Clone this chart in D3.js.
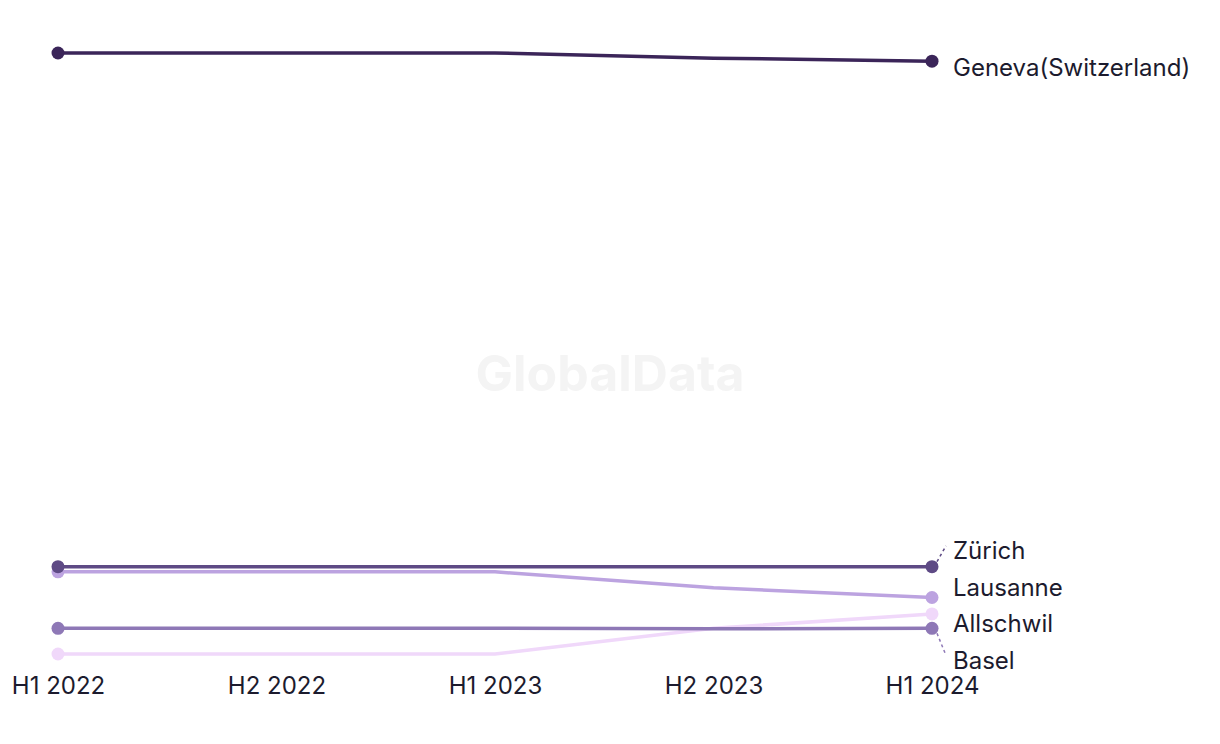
<!DOCTYPE html>
<html><head><meta charset="utf-8">
<script src="https://cdn.jsdelivr.net/npm/d3@7"></script>
<style>body{margin:0;background:#fff}svg{display:block}</style>
</head><body>
<svg id="chart" width="1220" height="744"></svg>
<script>
const periods = ["H1 2022","H2 2022","H1 2023","H2 2023","H1 2024"];
const seriesNames = ["Geneva(Switzerland)","Zürich","Lausanne","Allschwil","Basel"];
const geneva   = [118, 118, 118, 117, 116.4];
const zurich   = [18, 18, 18, 18, 18];
const lausanne = [17, 17, 17, 13.9, 12];
const allschwil= [1, 1, 1, 6, 8.8];
const basel    = [6, 6, 6, 5.9, 6];
const colors = ["#3b2559","#5e4a85","#bca3e0","#f0d8fa","#8e78b6"];

const values = [geneva, zurich, lausanne, allschwil, basel];
const series = seriesNames.map((n,i)=>({name:n, values:values[i], color:colors[i]}));

const FONT = "Inter, 'Liberation Sans', sans-serif";
const svg = d3.select("#chart");
const x = d3.scalePoint().domain(periods).range([58, 932]);
const y = d3.scaleLinear().domain([1, 118]).range([654, 53]);

// watermark
svg.append("text").attr("x", 610).attr("y", 391).attr("text-anchor","middle")
  .attr("font-family",FONT).attr("font-weight",700)
  .attr("font-size",50).attr("fill","#f4f4f4").text("GlobalData");

const line = d3.line().x((d,i)=>x(periods[i])).y(d=>y(d));

const drawOrder = [3,2,4,1,0];
drawOrder.forEach(i=>{
  const s = series[i];
  svg.append("path").attr("d", line(s.values)).attr("fill","none")
    .attr("stroke", s.color).attr("stroke-width",3.5);
});
drawOrder.forEach(i=>{
  const s = series[i];
  [0, s.values.length-1].forEach(j=>{
    svg.append("circle").attr("cx", x(periods[j])).attr("cy", y(s.values[j]))
      .attr("r",6.5).attr("fill", s.color);
  });
});

// x-axis labels
const axis = d3.axisBottom(x).tickSize(0).tickPadding(0);
const ax = svg.append("g").attr("transform","translate(0,677)").call(axis);
ax.select(".domain").remove();
ax.selectAll("text").attr("font-family",FONT)
  .attr("font-size",24).attr("fill","#1c1b2e").attr("dy","0.71em");

// end labels with collision avoidance
const last = periods.length-1;
const labels = series.map(s=>({s, py:y(s.values[last]), ty:y(s.values[last])+4}));
labels.sort((a,b)=>a.ty-b.ty);
const gap = 36.5;
labels.forEach(l=>l.ly=l.ty);
for(let it=0; it<200; it++){
  let moved=false;
  for(let k=1;k<labels.length;k++){
    const a=labels[k-1], b=labels[k];
    const ov = gap - (b.ly - a.ly);
    if(ov>0.01){ a.ly -= ov/2; b.ly += ov/2; moved=true; }
  }
  if(!moved) break;
}
const lx = x(periods[last]);
labels.forEach(l=>{
  if(Math.abs(l.ly - l.py) > 12){
    const dir = l.ly < l.py ? -1 : 1;
    svg.append("line").attr("x1", lx+5).attr("y1", l.py + dir*5)
      .attr("x2", lx+14).attr("y2", l.ly - 5)
      .attr("stroke", l.s.color === "#f0d8fa" ? "#d9bdf0" : l.s.color)
      .attr("stroke-width",1.5).attr("stroke-dasharray","3,3");
  }
  const isTop = l.s.name.startsWith("Geneva");
  svg.append("text").attr("x", lx+21).attr("y", l.ly + (isTop?2.5:0)).attr("dy","0.35em")
    .attr("font-family",FONT).attr("font-size",24)
    .attr("fill","#1c1b2e").text(l.s.name);
});
</script>
</body></html>
